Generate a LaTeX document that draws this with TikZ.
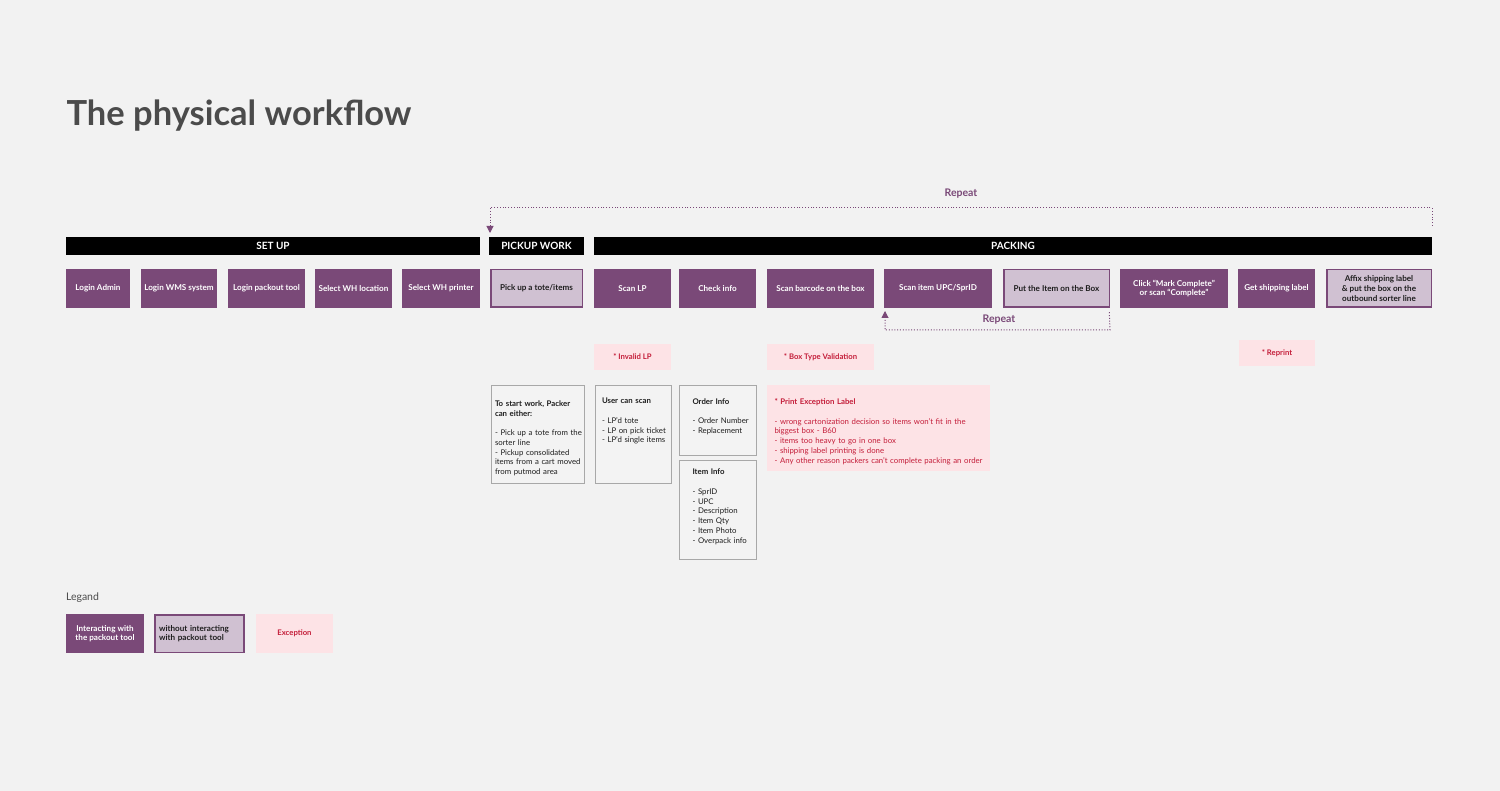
\documentclass[tikz,border=0pt]{standalone}
\usepackage{fontspec}
\setmainfont{Lato}
\usetikzlibrary{arrows.meta}
\definecolor{bg}{HTML}{F2F2F2}
\definecolor{bgtwo}{HTML}{F3F3F3}
\definecolor{dk}{HTML}{7A4978}
\definecolor{lt}{HTML}{D0C1D2}
\definecolor{pk}{HTML}{FDE3E6}
\definecolor{rd}{HTML}{C41E3A}
\definecolor{gr}{HTML}{A8A8A8}
\definecolor{tt}{HTML}{4B4B4B}
\definecolor{ink}{HTML}{1E1E1E}
\begin{document}
\begin{tikzpicture}[x=1pt,y=-1pt,
  every node/.style={inner sep=0pt, outer sep=0pt},
  hdr/.style={fill=black, text=white, font=\fontsize{10}{11}\selectfont\bfseries, minimum height=18pt},
  dkbox/.style={fill=dk, text=white, font=\fontsize{8.1}{9.6}\selectfont\bfseries, minimum height=39pt, align=center},
  ltbox/.style={fill=lt, draw=dk, line width=1.5pt, text=ink, font=\fontsize{8.1}{9.6}\selectfont\bfseries, minimum height=37.5pt, align=center},
  exbox/.style={fill=pk, text=rd, font=\fontsize{7.7}{9}\selectfont\bfseries, minimum height=26pt},
  infobox/.style={draw=gr, line width=1pt, fill=bgtwo, anchor=north west},
  infotxt/.style={anchor=north west, align=left, text width=#1, text=ink, font=\fontsize{7.8}{9.75}\selectfont},
  infotxt/.default=90pt,
  rep/.style={text=dk, font=\fontsize{10.5}{12}\selectfont\bfseries},
  loopline/.style={draw=dk, line width=1pt, dash pattern=on 1pt off 1.8pt},
  looptip/.style={-{Triangle[length=7pt,width=7pt]}}
]
\fill[bg] (0,0) rectangle (1500,791);
\useasboundingbox (0,0) rectangle (1500,791);

% title
\node[anchor=base west, font=\fontsize{34.5}{40}\selectfont\bfseries, text=tt] (title) at (66.5,125.5) {The physical workflow};

% header bars
\node[hdr, minimum width=414pt] (setup) at (273,246) {SET UP};
\node[hdr, minimum width=95pt] (pickup) at (536.5,246) {PICKUP WORK};
\node[hdr, minimum width=838pt] (packing) at (1013,246) {PACKING};

% steps
\node[dkbox, minimum width=64pt] (s1) at (98,288.5) {Login Admin};
\node[dkbox, minimum width=76pt] (s2) at (179,288.5) {Login WMS system};
\node[dkbox, minimum width=77pt] (s3) at (266.5,288.5) {Login packout tool};
\node[dkbox, minimum width=77pt] (s4) at (353.5,288.5) {Select WH location};
\node[dkbox, minimum width=78pt] (s5) at (441,288.5) {Select WH printer};
\node[ltbox, minimum width=91.5pt] (s6) at (536.5,288.5) {Pick up a tote/items};
\node[dkbox, minimum width=77pt] (s7) at (632.5,288.5) {Scan LP};
\node[dkbox, minimum width=77pt] (s8) at (717.5,288.5) {Check info};
\node[dkbox, minimum width=107pt] (s9) at (820.5,288.5) {Scan barcode on the box};
\node[dkbox, minimum width=108pt] (s10) at (938,288.5) {Scan item UPC/SprID};
\node[ltbox, minimum width=105.5pt] (s11) at (1056.5,288.5) {Put the Item on the Box};
\node[dkbox, minimum width=108pt] (s12) at (1174,288.5) {Click “Mark Complete”\\or scan “Complete”};
\node[dkbox, minimum width=77pt] (s13) at (1276.5,288.5) {Get shipping label};
\node[ltbox, minimum width=104.5pt] (s14) at (1379,288.5) {Affix shipping label\\\& put the box on the\\outbound sorter line};

% repeat loops
\coordinate (rtop) at (1432,208);
\coordinate (ltop) at (490,208);
\draw[loopline, looptip] ([yshift=11pt]packing.north east) -- (rtop) -- (ltop) -- ([xshift=1pt,yshift=4pt]pickup.north west);
\node[rep] (rep1) at (961,193.5) {Repeat};

\coordinate (rbot) at (1110,330);
\coordinate (lbot) at (885,330);
\draw[loopline, looptip] ([yshift=-5pt]s11.south east) -- (rbot) -- (lbot) -- ([xshift=1pt,yshift=-3pt]s10.south west);
\node[rep] (rep2) at (999,319.5) {Repeat};

% exceptions
\node[exbox, minimum width=77pt] (e1) at (632.5,357) {* Invalid LP};
\node[exbox, minimum width=107pt] (e2) at (820.5,357) {* Box Type Validation};
\node[exbox, minimum width=76pt] (e3) at (1277,353) {* Reprint};
\node[fill=pk, anchor=north west, minimum width=223pt, minimum height=86pt] (e4) at (767,385) {};
\node[infotxt=212pt, text=rd] (e4t) at (774.5,398.8) {\textbf{* Print Exception Label}\\[9.75pt]- wrong cartonization decision so items won’t fit in the\\biggest box - B60\\- items too heavy to go in one box\\- shipping label printing is done\\- Any other reason packers can’t complete packing an order};

% info boxes
\node[infobox, minimum width=93pt, minimum height=98pt] (i1) at (491,385.5) {};
\node[infotxt=88pt] (i1t) at (495,400.5) {\textbf{To start work, Packer}\\\textbf{can either:}\\[9.75pt]- Pick up a tote from the\\sorter line\\- Pickup consolidated\\items from a cart moved\\from putmod area};
\node[infobox, minimum width=76pt, minimum height=98pt] (i2) at (595,385.5) {};
\node[infotxt=68pt] (i2t) at (602,398.3) {\textbf{User can scan}\\[9.75pt]- LP’d tote\\- LP on pick ticket\\- LP’d single items};
\node[infobox, minimum width=77pt, minimum height=70pt] (i3) at (679,385.5) {};
\node[infotxt=62pt] (i3t) at (692.5,398.5) {\textbf{Order Info}\\[9.75pt]- Order Number\\- Replacement};
\node[infobox, minimum width=77pt, minimum height=98pt] (i4) at (679,461) {};
\node[infotxt=62pt] (i4t) at (692.5,469.1) {\textbf{Item Info}\\[9.75pt]- SprID\\- UPC\\- Description\\- Item Qty\\- Item Photo\\- Overpack info};

% legend
\node[anchor=base west, font=\fontsize{10.5}{12}\selectfont, text=tt] (legtitle) at (66,600.5) {Legand};
\node[dkbox, minimum width=78pt] (l1) at (105,633.5) {Interacting with\\the packout tool};
\node[fill=lt, draw=dk, line width=1.5pt, text=ink, font=\fontsize{8.1}{9.6}\selectfont\bfseries, minimum height=37.5pt, text width=81pt, inner xsep=4pt, align=left] (l2) at (199.5,633.5) {without interacting\\with packout tool};
\node[exbox, minimum width=77pt, minimum height=39pt] (l3) at (294.5,633.5) {Exception};
\end{tikzpicture}
\end{document}
